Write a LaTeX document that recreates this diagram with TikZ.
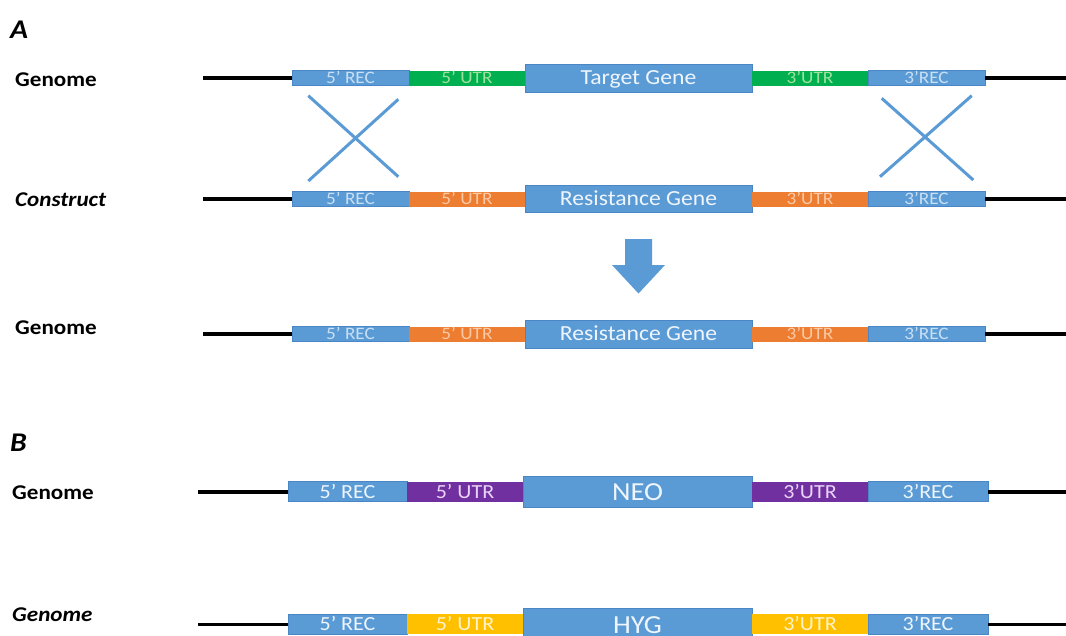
\documentclass[tikz,border=0pt]{standalone}
\usepackage{fontspec}
\setmainfont{Carlito}[FakeStretch=1.1]
\definecolor{recblue}{HTML}{5B9BD5}
\definecolor{recedge}{HTML}{4A86C5}
\definecolor{utrgreen}{HTML}{00B050}
\definecolor{utrorange}{HTML}{ED7D31}
\definecolor{utrpurple}{HTML}{7030A0}
\definecolor{utryellow}{HTML}{FFC000}
\definecolor{txtblue}{HTML}{C9DFF3}
\definecolor{txtgreen}{HTML}{9FE39A}
\definecolor{txtorange}{HTML}{FAC9A6}
\definecolor{txtpurple}{HTML}{EBD3F7}
\definecolor{txtyellow}{HTML}{FFF2CC}
\definecolor{txtwhite}{HTML}{EEF5FC}
\tikzset{
  seg/.style={rectangle, anchor=west, inner sep=0pt, outer sep=0pt, text depth=0pt},
  segA/.style={seg, minimum height=15pt, text height=11pt, font=\fontsize{17.5}{18}\selectfont},
  segB/.style={seg, minimum height=20pt, text height=12.7pt, font=\fontsize{20}{22}\selectfont},
  geneA/.style={seg, fill=recblue, draw=recedge, line width=0.7pt, text=txtwhite, text height=13.5pt, font=\fontsize{21.5}{24}\selectfont},
  geneB/.style={seg, fill=recblue, draw=recedge, line width=0.7pt, text=txtwhite, minimum height=31pt, text height=17.5pt, font=\fontsize{26}{28}\selectfont},
  rec/.style={fill=recblue, draw=recedge, line width=0.5pt},
  dna/.style={line width=3.6pt, black},
  cross/.style={line width=3pt, recblue},
  rowlab/.style={anchor=base west, inner sep=0pt, font=\fontsize{21}{24}\selectfont\bfseries},
  panlab/.style={anchor=base west, inner sep=0pt, font=\fontsize{27}{29}\selectfont\bfseries\itshape},
}
\begin{document}
\begin{tikzpicture}[x=1pt,y=-1pt]
\useasboundingbox (0,0) rectangle (1066,635);
\clip (0,0) rectangle (1066,635);
\fill[white] (0,0) rectangle (1066,635);

% ---------- Panel A ----------
\node[panlab] (labA) at (10,38.5) {A};

% row A1
\node[rowlab] (lA1) at (15,86) {Genome};
\coordinate (a1s) at (203,78);
\coordinate (a1e) at (1066,78);
\node[segA, rec, text=txtblue, minimum width=117pt] (a1r5) at (292,78) {5’ REC};
\node[segA, fill=utrgreen, text=txtgreen, minimum width=116pt] (a1u5) at (409,78) {5’ UTR};
\node[geneA, minimum width=227pt, minimum height=28pt] (a1g) at (525,78) {Target Gene};
\node[segA, fill=utrgreen, text=txtgreen, minimum width=116pt] (a1u3) at (752,78) {3’UTR};
\node[segA, rec, text=txtblue, minimum width=117pt] (a1r3) at (868,78) {3’REC};
\draw[dna] (a1s) -- (a1r5.west);
\draw[dna] (a1r3.east) -- (a1e);

% crossover lines
\draw[cross] (308.3,95.7) -- (398.3,176.7);
\draw[cross] (398.3,99.3) -- (308.3,181);
\draw[cross] (881.7,98.3) -- (973.3,180);
\draw[cross] (971.7,95.7) -- (880,176.7);

% row A2
\node[rowlab, font=\fontsize{21}{24}\selectfont\bfseries\itshape] (lA2) at (15,206.5) {Construct};
\coordinate (a2s) at (203,199);
\coordinate (a2e) at (1066,199);
\node[segA, rec, text=txtblue, minimum width=117pt] (a2r5) at (292,199) {5’ REC};
\node[segA, fill=utrorange, text=txtorange, minimum width=116pt] (a2u5) at (409,199) {5’ UTR};
\node[geneA, minimum width=227pt, minimum height=27pt] (a2g) at (525,198.5) {Resistance Gene};
\node[segA, fill=utrorange, text=txtorange, minimum width=116pt] (a2u3) at (752,199) {3’UTR};
\node[segA, rec, text=txtblue, minimum width=117pt] (a2r3) at (868,199) {3’REC};
\draw[dna] (a2s) -- (a2r5.west);
\draw[dna] (a2r3.east) -- (a2e);

% big arrow
\fill[recblue] (625,239) -- (652,239) -- (652,265) -- (665,265) -- (638.5,293.5) -- (612,265) -- (625,265) -- cycle;

% row A3
\node[rowlab] (lA3) at (15,334) {Genome};
\coordinate (a3s) at (203,334);
\coordinate (a3e) at (1066,334);
\node[segA, rec, text=txtblue, minimum width=117pt] (a3r5) at (292,334) {5’ REC};
\node[segA, fill=utrorange, text=txtorange, minimum width=116pt] (a3u5) at (409,334) {5’ UTR};
\node[geneA, minimum width=227pt, minimum height=28pt] (a3g) at (525,334) {Resistance Gene};
\node[segA, fill=utrorange, text=txtorange, minimum width=116pt] (a3u3) at (752,334) {3’UTR};
\node[segA, rec, text=txtblue, minimum width=117pt] (a3r3) at (868,334) {3’REC};
\draw[dna] (a3s) -- (a3r5.west);
\draw[dna] (a3r3.east) -- (a3e);

% ---------- Panel B ----------
\node[panlab] (labB) at (10,451) {B};

% row B1
\node[rowlab] (lB1) at (12,499) {Genome};
\coordinate (b1s) at (198,491.7);
\coordinate (b1e) at (1066,491.7);
\node[segB, rec, text=txtwhite, minimum width=119pt] (b1r5) at (288,491.7) {5’ REC};
\node[segB, fill=utrpurple, text=txtpurple, minimum width=116pt] (b1u5) at (407,491.7) {5’ UTR};
\node[geneB, minimum width=229pt] (b1g) at (523,491.4) {NEO};
\node[segB, fill=utrpurple, text=txtpurple, minimum width=116pt] (b1u3) at (752,491.7) {3’UTR};
\node[segB, rec, text=txtwhite, minimum width=120pt] (b1r3) at (868,491.7) {3’REC};
\draw[dna] (b1s) -- (b1r5.west);
\draw[dna] (b1r3.east) -- (b1e);

% row B2
\node[rowlab, font=\fontsize{21}{24}\selectfont\bfseries\itshape] (lB2) at (12,621) {Genome};
\coordinate (b2s) at (198,624.3);
\coordinate (b2e) at (1066,624.3);
\node[segB, rec, text=txtwhite, minimum width=119pt] (b2r5) at (288,624.3) {5’ REC};
\node[segB, fill=utryellow, text=txtyellow, minimum width=116pt] (b2u5) at (407,624.3) {5’ UTR};
\node[geneB, minimum width=229pt] (b2g) at (523,624.3) {HYG};
\node[segB, fill=utryellow, text=txtyellow, minimum width=116pt] (b2u3) at (752,624.3) {3’UTR};
\node[segB, rec, text=txtwhite, minimum width=120pt] (b2r3) at (868,624.3) {3’REC};
\draw[dna] (b2s) -- (b2r5.west);
\draw[dna] (b2r3.east) -- (b2e);
\end{tikzpicture}
\end{document}
